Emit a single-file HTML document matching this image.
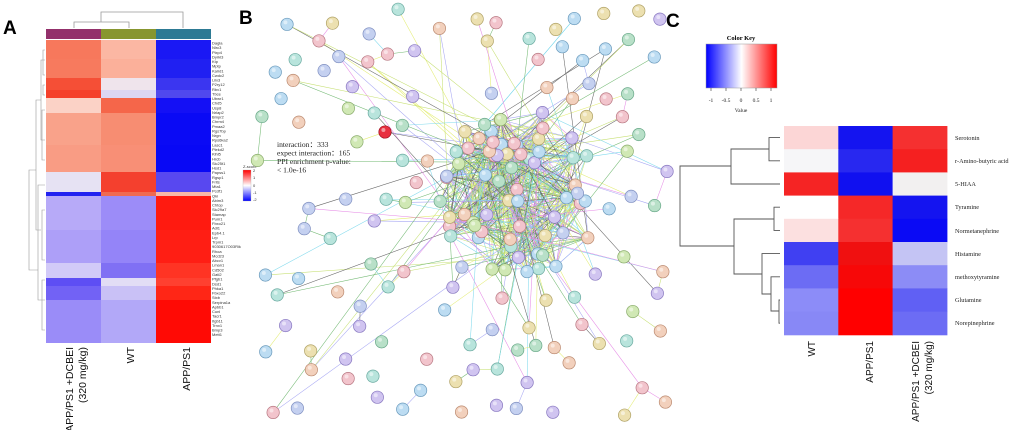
<!DOCTYPE html>
<html><head><meta charset="utf-8">
<style>
html,body{margin:0;padding:0;background:#fff;}
svg{display:block;}
.g{font-family:"Liberation Sans",Arial,sans-serif;font-size:4px;fill:#333;}
.s{font-family:"Liberation Serif",serif;}
</style></head>
<body>
<svg id="sv" width="1020" height="430" viewBox="0 0 1020 430" xmlns="http://www.w3.org/2000/svg">
<rect width="1020" height="430" fill="#fff"/>
<!-- Panel A -->
<text x="3" y="34" font-family="Liberation Sans,sans-serif" font-weight="bold" font-size="19">A</text>
<g stroke="#999" stroke-width="0.8" fill="none">
<path d="M74 28 V22 H129 V28"/><path d="M101 22 V12 H183 V28"/>
</g>
<rect x="46" y="29" width="55" height="10" fill="#93306b"/>
<rect x="101" y="29" width="55" height="10" fill="#87962f"/>
<rect x="156" y="29" width="55" height="10" fill="#2d7a94"/>
<g id="hmA"></g>
<g stroke="#999" stroke-width="0.6" fill="none">
<path d="M45 60 H41 V140 H45"/><path d="M41 100 H36 V230 H41"/><path d="M45 185 H38 V300 H45"/><path d="M36 170 H29 V270 H38"/>
<path d="M45 50 H43 V75 H45"/><path d="M45 85 H43 V95 H45"/><path d="M45 110 H42 V160 H45"/><path d="M45 210 H42 V260 H45"/><path d="M45 280 H42 V330 H45"/>
</g>
<g id="genes"></g>
<text x="243" y="168" class="g" font-size="4">Z-score</text>
<defs>
<linearGradient id="zg" x1="0" y1="0" x2="0" y2="1">
<stop offset="0" stop-color="#f00"/><stop offset="0.5" stop-color="#fff"/><stop offset="1" stop-color="#00f"/></linearGradient>
<linearGradient id="ck" x1="0" y1="0" x2="1" y2="0">
<stop offset="0" stop-color="#00f"/><stop offset="0.5" stop-color="#fff"/><stop offset="1" stop-color="#f00"/></linearGradient>
</defs>
<rect x="243" y="170" width="8" height="31" fill="url(#zg)" stroke="#aaa" stroke-width="0.3"/>
<g class="g" font-size="3.5"><text x="253" y="172">2</text><text x="253" y="179">1</text><text x="253" y="187">0</text><text x="253" y="194">-1</text><text x="253" y="201">-2</text></g>
<g font-family="Liberation Sans,sans-serif" font-size="10.5" fill="#111" text-anchor="end">
<text transform="translate(73,347) rotate(-90)">APP/PS1 +DCBEI</text>
<text transform="translate(86,347) rotate(-90)">(320 mg/kg)</text>
<text transform="translate(134,347) rotate(-90)">WT</text>
<text transform="translate(190,347) rotate(-90)">APP/PS1</text>
</g>
<!-- Panel B -->
<text x="239" y="24" font-family="Liberation Sans,sans-serif" font-weight="bold" font-size="19">B</text>
<g id="net"></g>
<g class="s" font-size="7.6" fill="#222">
<text x="277" y="147">interaction：333</text>
<text x="277" y="155.5">expect interaction：165</text>
<text x="277" y="164">PPI enrichment p-value:</text>
<text x="277" y="172.5">&lt; 1.0e-16</text>
</g>
<!-- Panel C -->
<text x="666" y="27" font-family="Liberation Sans,sans-serif" font-weight="bold" font-size="19">C</text>
<text x="741" y="40" class="s" font-size="6.5" font-weight="bold" text-anchor="middle">Color Key</text>
<rect x="706" y="44" width="71" height="44" fill="url(#ck)" stroke="#999" stroke-width="0.5"/>
<g stroke="#333" stroke-width="0.6"><path d="M711 88v3M726 88v3M741 88v3M756 88v3M771 88v3"/></g>
<g class="s" font-size="5.5" text-anchor="middle" fill="#222"><text x="711" y="102">-1</text><text x="726" y="102">-0.5</text><text x="741" y="102">0</text><text x="756" y="102">0.5</text><text x="771" y="102">1</text><text x="741" y="112">Value</text></g>
<g id="hmC"></g>
<g stroke="#555" stroke-width="0.9" fill="none">
<path d="M780 137.6 H769 V160.8 H780"/>
<path d="M769 149 H731 V184 H780"/>
<path d="M780 207.2 H774 V230.4 H780"/>
<path d="M780 300 H779 V323.2 H780"/>
<path d="M779 311 H771 V276.8 H780"/>
<path d="M771 294 H762 V253.6 H780"/>
<path d="M774 219 H734 V274 H762"/>
<path d="M731 166 H680 V246 H734"/>
</g>
<g class="s" font-size="6.3" fill="#222">
<text x="955" y="140">Serotonin</text><text x="955" y="163">r-Amino-butyric acid</text><text x="955" y="186">5-HIAA</text><text x="955" y="209">Tyramine</text><text x="955" y="233">Normetanephrine</text><text x="955" y="256">Histamine</text><text x="955" y="279">methoxytyramine</text><text x="955" y="302">Glutamine</text><text x="955" y="325">Norepinephrine</text>
</g>
<g font-family="Liberation Sans,sans-serif" font-size="10" fill="#111" text-anchor="end">
<text transform="translate(815,341) rotate(-90)">WT</text>
<text transform="translate(873,341) rotate(-90)">APP/PS1</text>
<text transform="translate(919,341) rotate(-90)">APP/PS1 +DCBEI</text>
<text transform="translate(932,341) rotate(-90)">(320 mg/kg)</text>
</g>
</svg>
<script>
var NS="http://www.w3.org/2000/svg";
function el(p,t,a){var e=document.createElementNS(NS,t);for(var k in a)e.setAttribute(k,a[k]);p.appendChild(e);return e;}
var A=document.getElementById('hmA');
var blocks=[[40,59,'#f7785c','#fbb7a3','#1a18f4'],[59,78,'#f77a5e','#fbb09a','#2020f2'],[78,90,'#f54f36','#efe4ec','#3b36f0'],[90,98,'#f5402a','#dcd6f2','#5048ee'],[98,113,'#fbd2c6','#f5664a','#1410f5'],[113,145,'#f9a28a','#f78d72','#0a0af5'],[145,172,'#f99c84','#f88f76','#0808f5'],[172,192,'#e6e2f3','#f4402e','#5848f0'],[192,196,'#2222f0','#f06a52','#f8b8a8'],[196,230,'#b7aaf8','#9c8cf8','#ff1a10'],[230,263,'#ad9ff8','#9484f8','#ff1e14'],[263,278,'#d2caf8','#8070f4','#ff3424'],[278,286,'#5e4ef4','#e2ddf5','#ff4030'],[286,300,'#7262f5','#c9c1f6','#ff2616'],[300,343,'#9a8cf8','#b2a8f8','#ff0a05']];
blocks.forEach(function(b){el(A,'rect',{x:46,y:b[0],width:55,height:b[1]-b[0],fill:b[2]});el(A,'rect',{x:101,y:b[0],width:55,height:b[1]-b[0],fill:b[3]});el(A,'rect',{x:156,y:b[0],width:55,height:b[1]-b[0],fill:b[4]});});
var genes="Dagla Nlrc3 Plxp4 Dyrkl3 Ktp Mptp Kalrd1 Cwdc2 Lilx3 P2ry12 Rbv1 Tbce Ubwr1 Chd5 Usp8 Nrlap2 Bmpr2 Chrm4 Pmaa2 Rgs7bp Nrgn Rps6ka2 Lasc1 Plekd2 Klhl5 Hrcb Slc25t1 Hsd1 Papss1 Rgsp1 Frits Mta1 Pcdf1 Qki Abim3 Chtop Slc29a7 Stamap Pum1 Fbxo21 Adl1 Epb4.1 Lrp Trpm1 9030617O03Rik Rhoa Mcd23 Abcv1 Lman1 Cd502 Gatl2 Pfgb1 Dsd1 Phka1 Fbxo22 Stxb Serpina1a Apbb1 Cunl Tacr1 Itgb11 Trnx1 Bmp3 Mett1".split(' ');
var G=document.getElementById('genes');
genes.forEach(function(g,i){var t=el(G,'text',{x:212,y:44.5+i*4.63,'class':'g'});t.textContent=g;});
var C=document.getElementById('hmC');
var rows=[['#fcd6d6','#1414f0','#f53030'],['#f6f6f8','#2828f0','#f52020'],['#f52424','#1010f0','#f2f0f0'],['#ffffff','#f52828','#1414f0'],['#fce0e0','#f53030','#0a0af5'],['#4040f2','#f01010','#c4c4f4'],['#6c6cf4','#f70808','#8c8cf6'],['#8c8cf8','#ff0000','#6060f4'],['#8888f6','#ff0000','#6c6cf4']];
rows.forEach(function(r,i){for(var j=0;j<3;j++)el(C,'rect',{x:784+j*54.3,y:126+i*23.2,width:54.8,height:23.7,fill:r[j]});});
var s=12345;function R(){s=(s*1103515245+12345)%2147483648;return s/2147483648;}
var N=document.getElementById('net');
var nodes=[];
var pal=[['#c4d0f0','#7f8fc0'],['#d0e8b4','#8aac6c'],['#b8e4dc','#6aaaa0'],['#f2d0bc','#bb8a70'],['#ece0b0','#b0a266'],['#d0c4f0','#8878c0'],['#b8e0c8','#68a888'],['#f2c4cc','#b87882'],['#bcdcf2','#6a9abc']];
for(var i=0;i<65;i++){var a=R()*6.283,r=Math.sqrt(R())*78;nodes.push([520+Math.cos(a)*r*1.05,195+Math.sin(a)*r*1.1,1]);}
nodes.push([385,132,0]);
var tries=0;while(nodes.length<185&&tries<6000){tries++;var x=255+R()*415,y=6+R()*410;
 if(x>268&&x<345&&y>135&&y<178)continue;
 var dx=(x-520)/100,dy=(y-195)/100;if(dx*dx+dy*dy<0.75)continue;
 var ok=true;for(var k=0;k<nodes.length;k++){var ex=nodes[k][0]-x,ey=nodes[k][1]-y;if(ex*ex+ey*ey<340){ok=false;break;}}
 if(ok)nodes.push([x,y,0]);}
var ecol=['#b8d850','#e070e0','#60d0e8','#404040','#dce850','#9090f0','#50a850'];
var eg=el(N,'g',{'stroke-width':'0.55',opacity:'0.8'});
function edge(a,b){var c=ecol[Math.floor(R()*ecol.length)];el(eg,'line',{x1:a[0],y1:a[1],x2:b[0],y2:b[1],stroke:c});}
for(var i=0;i<65;i++){for(var j=0;j<10;j++){var k=Math.floor(R()*65);if(k!=i)edge(nodes[i],nodes[k]);}}
for(var i=65;i<nodes.length;i++){var n=nodes[i];var d=Math.hypot(n[0]-520,n[1]-195);var p=d<160?0.75:0.3;
 if(R()<p){var m=1+Math.floor(R()*2);for(var j=0;j<m;j++)edge(n,nodes[Math.floor(R()*65)]);}
 if(R()<0.25){var best=-1,bd=1e9;for(var k=65;k<nodes.length;k++){if(k==i)continue;var dd=Math.hypot(nodes[k][0]-n[0],nodes[k][1]-n[1]);if(dd<bd){bd=dd;best=k;}}if(best>=0&&bd<60)edge(n,nodes[best]);}}
var ng=el(N,'g',{});
nodes.forEach(function(n,i){var c=pal[Math.floor(R()*pal.length)];if(i==65)c=['#e83040','#a01020'];
 el(ng,'circle',{cx:n[0],cy:n[1],r:6.2,fill:c[0],stroke:c[1],'stroke-width':'0.7'});
 el(ng,'circle',{cx:n[0]-1.6,cy:n[1]-2,r:2,fill:'#fff',opacity:'0.5'});});
</script>
</body></html>
